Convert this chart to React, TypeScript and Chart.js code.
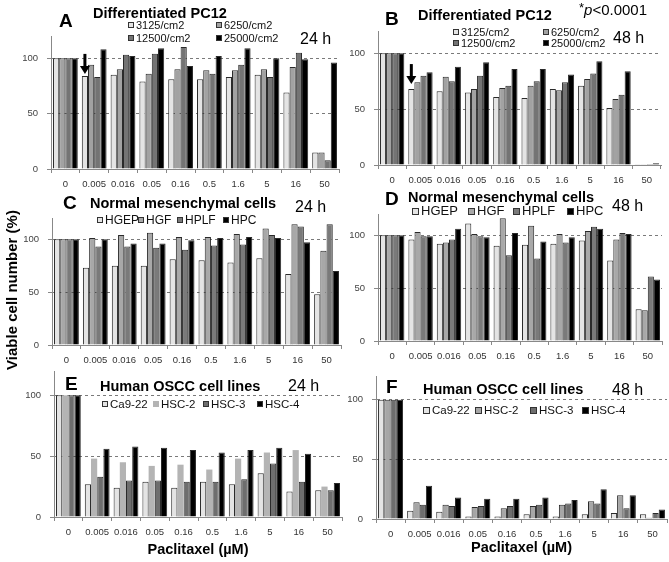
import React, { useEffect, useRef } from 'react';
import { Chart, registerables } from 'chart.js';
Chart.register(...registerables);

// ---------- data ----------
const doses = ['0', '0.005', '0.016', '0.05', '0.16', '0.5', '1.6', '5', '16', '50'];
const yTicks = [0, 50, 100];

const pc12Series = ['3125/cm2', '6250/cm2', '12500/cm2', '25000/cm2'];
const mesSeries = ['HGEP', 'HGF', 'HPLF', 'HPC'];
const osccSeries = ['Ca9-22', 'HSC-2', 'HSC-3', 'HSC-4'];

// A: Differentiated PC12, 24 h
const a3125 = [100, 84, 85, 79, 81, 81, 83, 85, 69, 15];
const a6250 = [100, 94, 90, 86, 90, 89, 89, 90, 92, 15];
const a12500 = [100, 83, 103, 104, 110, 86, 94, 83, 105, 8];
const a25000 = [100, 108, 102, 109, 93, 102, 109, 100, 99, 96];
// B: Differentiated PC12, 48 h
const b3125 = [100, 68, 66, 65, 61, 60, 68, 71, 51, 0.3];
const b6250 = [100, 74, 79, 68, 69, 71, 67, 77, 59, 0.6];
const b12500 = [100, 80, 75, 80, 71, 75, 74, 82, 63, 1];
const b25000 = [100, 83, 88, 92, 86, 86, 81, 93, 84, 1.5];
// C: Normal mesenchymal cells, 24 h
const cHGEP = [100, 73, 75, 75, 81, 80, 78, 82, 67, 48];
const cHGF = [100, 101, 104, 106, 102, 102, 105, 110, 114, 89];
const cHPLF = [100, 93, 93, 92, 90, 94, 95, 104, 112, 114];
const cHPC = [100, 100, 96, 96, 99, 101, 102, 101, 97, 70];
// D: Normal mesenchymal cells, 48 h
const dHGEP = [100, 96, 92, 111, 90, 91, 92, 95, 76, 30];
const dHGF = [100, 103, 93, 101, 116, 109, 101, 104, 96, 29];
const dHPLF = [100, 99, 96, 99, 81, 78, 93, 108, 102, 61];
const dHPC = [100, 99, 106, 98, 102, 94, 98, 106, 101, 58];
// E: Human OSCC cell lines, 24 h
const eCa922 = [100, 27, 24, 29, 24, 29, 27, 36, 21, 22];
const eHSC2 = [100, 48, 45, 42, 43, 39, 48, 53, 55, 25];
const eHSC3 = [100, 33, 30, 30, 29, 29, 31, 44, 29, 22];
const eHSC4 = [100, 56, 58, 57, 55, 53, 55, 57, 52, 28];
// F: Human OSCC cell lines, 48 h
const fCa922 = [100, 7, 6, 2, 2, 4, 2, 4, 5, 4];
const fHSC2 = [100, 14, 12, 10, 9, 11, 12, 15, 20, 1];
const fHSC3 = [100, 12, 11, 11, 11, 12, 13, 13, 9, 5];
const fHSC4 = [100, 28, 18, 17, 17, 18, 16, 25, 20, 8];

const titlePC12 = 'Differentiated PC12';
const titleMes = 'Normal mesenchymal cells';
const titleOSCC = 'Human OSCC cell lines';
const yTitle = 'Viable cell number (%)';
const xTitle = 'Paclitaxel (µM)';

// ---------- layout / style ----------
const W = 669;
const H = 562;
const YW = 28;
const FF = '"Liberation Sans", Arial, sans-serif';

const grey4 = ['#e4e4e4', '#a2a2a2', '#747474', '#000000'];
const greyMes = ['#e4e4e4', '#a8a8a8', '#7a7a7a', '#000000'];
const greyE = ['#e4e4e4', '#b4b4b4', '#6e6e6e', '#000000'];
const greyF = ['#e4e4e4', '#a6a6a6', '#6e6e6e', '#000000'];

type Txt = { text: string; font: string; x: number; y: number };

const decoPlugin = {
  id: 'panelDeco',
  afterDraw(chart: any, _args: any, opts: any) {
    const ctx = chart.ctx as CanvasRenderingContext2D;
    ctx.save();
    ctx.fillStyle = '#000';
    ctx.textAlign = 'left';
    ctx.textBaseline = 'alphabetic';
    (opts.texts || []).forEach((t: Txt) => {
      ctx.font = t.font;
      ctx.fillText(t.text, t.x, t.y);
    });
    if (opts.pText) {
      let x = opts.pText.x;
      const y = opts.pText.y;
      ctx.font = `13px ${FF}`;
      ctx.fillText('*', x, y - 3);
      x += ctx.measureText('*').width;
      ctx.font = `italic 15px ${FF}`;
      ctx.fillText('p', x, y);
      x += ctx.measureText('p').width;
      ctx.font = `15px ${FF}`;
      ctx.fillText('<0.0001', x, y);
    }
    if (opts.yLabel) {
      ctx.save();
      ctx.translate(opts.yLabel.x, opts.yLabel.y);
      ctx.rotate(-Math.PI / 2);
      ctx.font = `bold 15px ${FF}`;
      ctx.textAlign = 'center';
      ctx.textBaseline = 'middle';
      ctx.fillText(opts.yLabel.text, 0, 0);
      ctx.restore();
    }
    const L = opts.legend;
    if (L) {
      chart.data.datasets.forEach((ds: any, i: number) => {
        const p = L.items[i];
        const b = L.box;
        const top = Math.round(p.y - b / 2);
        ctx.fillStyle = ds.backgroundColor;
        ctx.fillRect(p.x, top, b, b);
        if (ds.borderWidth) {
          ctx.strokeStyle = '#333';
          ctx.lineWidth = 1;
          ctx.strokeRect(p.x + 0.5, top + 0.5, b - 1, b - 1);
        }
        ctx.fillStyle = '#111';
        ctx.font = L.font;
        ctx.textBaseline = 'middle';
        ctx.fillText(ds.label, p.x + b + L.gap, p.y + 0.5);
      });
    }
    if (opts.arrow) {
      const el = chart.getDatasetMeta(0).data[opts.arrow.index];
      const x = el.x;
      const tip = el.y - opts.arrow.gap;
      const top = tip - opts.arrow.len;
      ctx.fillStyle = '#000';
      ctx.fillRect(x - 1.5, top, 3, opts.arrow.len - 7);
      ctx.beginPath();
      ctx.moveTo(x - 5, tip - 8);
      ctx.lineTo(x + 5, tip - 8);
      ctx.lineTo(x, tip);
      ctx.closePath();
      ctx.fill();
    }
    ctx.restore();
  },
};

type Panel = {
  plot: { l: number; r: number; t: number; b: number };
  xh: number;
  series: string[];
  values: number[][];
  colors: string[];
  borders: number[];
  xTitle?: boolean;
  deco: any;
};

const panels: Panel[] = [
  {
    plot: { l: 51, r: 339, t: 36, b: 169 },
    xh: 24,
    series: pc12Series,
    values: [a3125, a6250, a12500, a25000],
    colors: grey4,
    borders: [1, 1, 1, 1],
    deco: {
      texts: [
        { text: 'A', font: `bold 19px ${FF}`, x: 59, y: 27 },
        { text: titlePC12, font: `bold 14.5px ${FF}`, x: 93, y: 18 },
        { text: '24 h', font: `16px ${FF}`, x: 300, y: 44 },
      ],
      legend: {
        box: 6, gap: 2, font: `11px ${FF}`,
        items: [{ x: 128, y: 25 }, { x: 216, y: 25 }, { x: 128, y: 38 }, { x: 216, y: 38 }],
      },
      arrow: { index: 1, gap: 2, len: 20 },
    },
  },
  {
    plot: { l: 378, r: 661, t: 31, b: 165 },
    xh: 24,
    series: pc12Series,
    values: [b3125, b6250, b12500, b25000],
    colors: grey4,
    borders: [1, 1, 1, 1],
    deco: {
      texts: [
        { text: 'B', font: `bold 19px ${FF}`, x: 385, y: 25 },
        { text: titlePC12, font: `bold 14.5px ${FF}`, x: 418, y: 20 },
        { text: '48 h', font: `16px ${FF}`, x: 613, y: 43 },
      ],
      pText: { x: 579, y: 15 },
      legend: {
        box: 6, gap: 2, font: `11px ${FF}`,
        items: [{ x: 453, y: 32 }, { x: 543, y: 32 }, { x: 453, y: 43 }, { x: 543, y: 43 }],
      },
      arrow: { index: 1, gap: 5, len: 20 },
    },
  },
  {
    plot: { l: 52, r: 341, t: 218, b: 345 },
    xh: 24,
    series: mesSeries,
    values: [cHGEP, cHGF, cHPLF, cHPC],
    colors: greyMes,
    borders: [1, 1, 1, 1],
    deco: {
      texts: [
        { text: 'C', font: `bold 19px ${FF}`, x: 63, y: 209 },
        { text: titleMes, font: `bold 14.5px ${FF}`, x: 90, y: 208 },
        { text: '24 h', font: `16px ${FF}`, x: 295, y: 212 },
      ],
      legend: {
        box: 6, gap: 2, font: `12px ${FF}`,
        items: [{ x: 97, y: 220 }, { x: 138, y: 220 }, { x: 177, y: 220 }, { x: 223, y: 220 }],
      },
      yLabel: { text: yTitle, x: 13, y: 290 },
    },
  },
  {
    plot: { l: 378, r: 662, t: 214, b: 341 },
    xh: 24,
    series: mesSeries,
    values: [dHGEP, dHGF, dHPLF, dHPC],
    colors: greyMes,
    borders: [1, 1, 1, 1],
    deco: {
      texts: [
        { text: 'D', font: `bold 19px ${FF}`, x: 385, y: 205 },
        { text: titleMes, font: `bold 14.5px ${FF}`, x: 408, y: 202 },
        { text: '48 h', font: `16px ${FF}`, x: 612, y: 211 },
      ],
      legend: {
        box: 7, gap: 2, font: `13px ${FF}`,
        items: [{ x: 412, y: 211 }, { x: 468, y: 211 }, { x: 513, y: 211 }, { x: 567, y: 211 }],
      },
    },
  },
  {
    plot: { l: 54, r: 342, t: 371, b: 517 },
    xh: 42,
    series: osccSeries,
    values: [eCa922, eHSC2, eHSC3, eHSC4],
    colors: greyE,
    borders: [1, 0, 1, 1],
    xTitle: true,
    deco: {
      texts: [
        { text: 'E', font: `bold 19px ${FF}`, x: 65, y: 390 },
        { text: titleOSCC, font: `bold 14.5px ${FF}`, x: 100, y: 391 },
        { text: '24 h', font: `16px ${FF}`, x: 288, y: 391 },
      ],
      legend: {
        box: 6, gap: 2, font: `11.5px ${FF}`,
        items: [{ x: 102, y: 404 }, { x: 153, y: 404 }, { x: 203, y: 404 }, { x: 257, y: 404 }],
      },
    },
  },
  {
    plot: { l: 376, r: 667, t: 376, b: 519 },
    xh: 38,
    series: osccSeries,
    values: [fCa922, fHSC2, fHSC3, fHSC4],
    colors: greyF,
    borders: [1, 1, 1, 1],
    xTitle: true,
    deco: {
      texts: [
        { text: 'F', font: `bold 19px ${FF}`, x: 386, y: 393 },
        { text: titleOSCC, font: `bold 14.5px ${FF}`, x: 423, y: 394 },
        { text: '48 h', font: `16px ${FF}`, x: 612, y: 395 },
      ],
      legend: {
        box: 7, gap: 2, font: `11.5px ${FF}`,
        items: [{ x: 423, y: 410 }, { x: 475, y: 410 }, { x: 530, y: 410 }, { x: 582, y: 410 }],
      },
    },
  },
];

function makeConfig(p: Panel): any {
  return {
    type: 'bar',
    data: {
      labels: doses,
      datasets: p.series.map((s, i) => ({
        label: s,
        data: p.values[i],
        backgroundColor: p.colors[i],
        borderColor: '#2a2a2a',
        borderWidth: p.borders[i],
        borderSkipped: 'bottom',
        categoryPercentage: 0.86,
        barPercentage: 1,
      })),
    },
    options: {
      responsive: false,
      maintainAspectRatio: false,
      animation: false,
      events: [],
      layout: {
        padding: {
          left: p.plot.l - YW,
          right: W - p.plot.r,
          top: p.plot.t,
          bottom: H - p.plot.b - p.xh,
        },
      },
      plugins: {
        legend: { display: false },
        tooltip: { enabled: false },
        title: { display: false },
        panelDeco: p.deco,
      },
      scales: {
        x: {
          offset: true,
          grid: {
            offset: true,
            drawOnChartArea: false,
            drawTicks: true,
            tickLength: 4,
            tickColor: '#888',
            color: '#888',
          },
          border: { display: true, color: '#888', width: 1 },
          ticks: {
            font: { family: FF, size: 9.5 },
            color: '#333',
            padding: 6,
            maxRotation: 0,
            autoSkip: false,
          },
          title: {
            display: !!p.xTitle,
            text: xTitle,
            font: { family: FF, size: 14.5, weight: 'bold' },
            color: '#000',
            padding: 0,
          },
          afterFit: (s: any) => {
            s.height = p.xh;
          },
        },
        y: {
          min: 0,
          max: 120,
          afterBuildTicks: (s: any) => {
            s.ticks = yTicks.map((v) => ({ value: v }));
          },
          grid: {
            drawTicks: true,
            tickLength: 4,
            tickColor: '#888',
            tickBorderDash: [],
            color: (c: any) => (c.tick && c.tick.value === 0 ? 'rgba(0,0,0,0)' : '#7a7a7a'),
          },
          border: { display: true, color: '#888', width: 1, dash: [3, 3] },
          ticks: {
            font: { family: FF, size: 9.5 },
            color: '#444',
            padding: 9,
          },
          afterFit: (s: any) => {
            s.width = YW;
          },
        },
      },
    },
    plugins: [decoPlugin],
  };
}

function PanelChart({ p }: { p: Panel }) {
  const ref = useRef<HTMLCanvasElement | null>(null);
  useEffect(() => {
    if (!ref.current) return;
    const chart = new Chart(ref.current, makeConfig(p));
    return () => chart.destroy();
  }, [p]);
  return (
    <canvas
      ref={ref}
      width={W}
      height={H}
      style={{ position: 'absolute', left: 0, top: 0, width: W, height: H }}
    />
  );
}

export default function App() {
  return (
    <div
      style={{
        position: 'fixed',
        left: 0,
        top: 0,
        width: W,
        height: H,
        background: '#fff',
        overflow: 'hidden',
      }}
    >
      {panels.map((p, i) => (
        <PanelChart key={i} p={p} />
      ))}
    </div>
  );
}
